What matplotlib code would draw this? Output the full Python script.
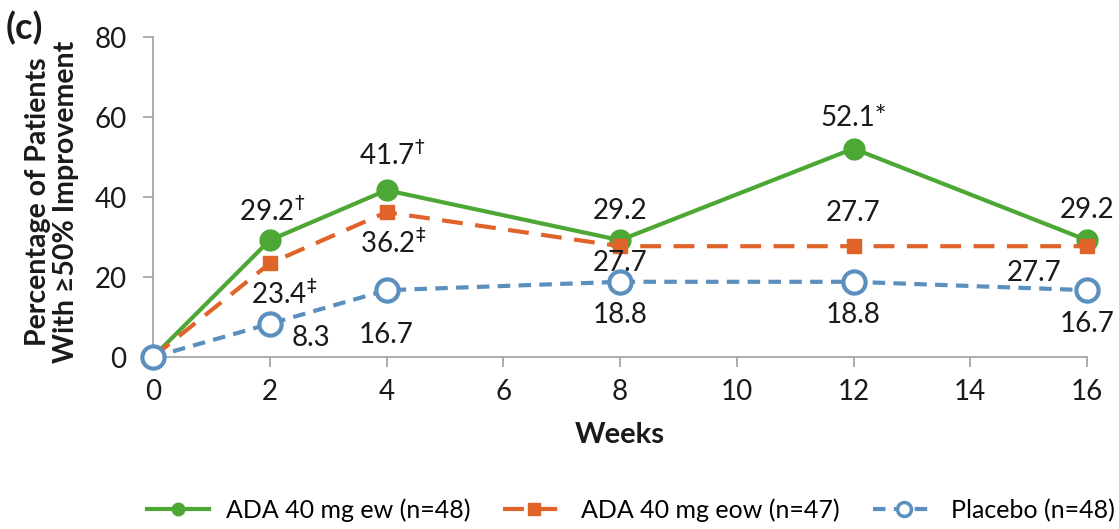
import numpy as np
import matplotlib as mpl
import matplotlib.pyplot as plt

# data
weeks = [0, 2, 4, 8, 12, 16]
ew_values = [0, 29.2, 41.7, 29.2, 52.1, 29.2]
eow_values = [0, 23.4, 36.2, 27.7, 27.7, 27.7]
pbo_values = [0, 8.3, 16.7, 18.8, 18.8, 16.7]

ew_labels = [None, r'29.2$^{\dag}$', r'41.7$^{\dag}$', '29.2', '52.1*', '29.2']
eow_labels = [None, r'23.4$^{\ddag}$', r'36.2$^{\ddag}$', '27.7', '27.7', '27.7']
pbo_labels = [None, '8.3', '16.7', '18.8', '18.8', '16.7']

series_names = ['ADA 40 mg ew (n=48)', 'ADA 40 mg eow (n=47)', 'Placebo (n=48)']
xticks = [0, 2, 4, 6, 8, 10, 12, 14, 16]
yticks = [0, 20, 40, 60, 80]

# label offsets in points (dx, dy)
ew_offsets = [None, (2, 21), (4, 25), (0, 21), (0, 22), (0, 22)]
eow_offsets = [None, (10, -22), (5, -22), (0, -12), (0, 24), (-38, -19)]
pbo_offsets = [None, (30, -10), (0, -32), (0, -24), (0, -24), (0, -24)]

green = '#4ca735'
orange = '#e0632a'
blue = '#5b8fbe'
gray = '#a6a6a6'
text_color = '#1a1a1a'

mpl.rcParams['font.family'] = ['Lato', 'DejaVu Sans']
mpl.rcParams['mathtext.fontset'] = 'dejavusans'
mpl.rcParams['font.size'] = 20

fig = plt.figure(figsize=(11.19, 5.29), dpi=100)
ax = fig.add_axes([153/1119, 1 - 357/529, (1087 - 153)/1119, (357 - 37)/529])

ax.plot(weeks, ew_values, color=green, lw=3, marker='o', ms=15,
        label=series_names[0], clip_on=False, zorder=3)
ax.plot(weeks, eow_values, color=orange, lw=3, dashes=(5, 3), marker='s', ms=10,
        label=series_names[1], clip_on=False, zorder=4)
ax.plot(weeks, pbo_values, color=blue, lw=3, dashes=(3, 2), marker='o', ms=16,
        mfc='white', mec=blue, mew=3, label=series_names[2], clip_on=False, zorder=5)

for vals, labels, offs in [(ew_values, ew_labels, ew_offsets),
                           (eow_values, eow_labels, eow_offsets),
                           (pbo_values, pbo_labels, pbo_offsets)]:
    for x, y, s, o in zip(weeks, vals, labels, offs):
        if s is None:
            continue
        ax.annotate(s, (x, y), xytext=o, textcoords='offset points',
                    ha='center', va='center', fontsize=20, color=text_color, zorder=6)

ax.set_xlim(0, 16)
ax.set_ylim(0, 80)
ax.set_xticks(xticks)
ax.set_yticks(yticks)
for side in ['top', 'right']:
    ax.spines[side].set_visible(False)
for side in ['left', 'bottom']:
    ax.spines[side].set_color(gray)
    ax.spines[side].set_linewidth(1.3)
ax.tick_params(axis='both', direction='out', length=7, width=1.3, color=gray,
               labelsize=20, labelcolor=text_color)
ax.tick_params(axis='y', pad=12)
ax.tick_params(axis='x', pad=9)

ax.set_xlabel('Weeks', fontsize=21, fontweight='bold', labelpad=12, color=text_color)
fig.text(52/1119, 1 - 202/529, 'Percentage of Patients\nWith \u226550% Improvement',
         rotation=90, ha='center', va='center', fontsize=20.5, fontweight='bold',
         color=text_color, linespacing=1.1)
fig.text(6/1119, 1 - 28/529, '(c)', fontsize=26, fontweight='bold', va='center',
         color=text_color)

handles, labels = ax.get_legend_handles_labels()
leg = fig.legend(handles, labels, loc='center', bbox_to_anchor=(631/1119, 1 - 510/529),
                 ncol=3, frameon=False, fontsize=18, handlelength=2.5,
                 columnspacing=1.3, handletextpad=0.65)
for h, ms in zip(leg.legend_handles, [9, 9, 10]):
    h.set_markersize(ms)
    h.set_markeredgewidth(2.5 if ms == 10 else 1)

fig.savefig('out.png', dpi=100)
